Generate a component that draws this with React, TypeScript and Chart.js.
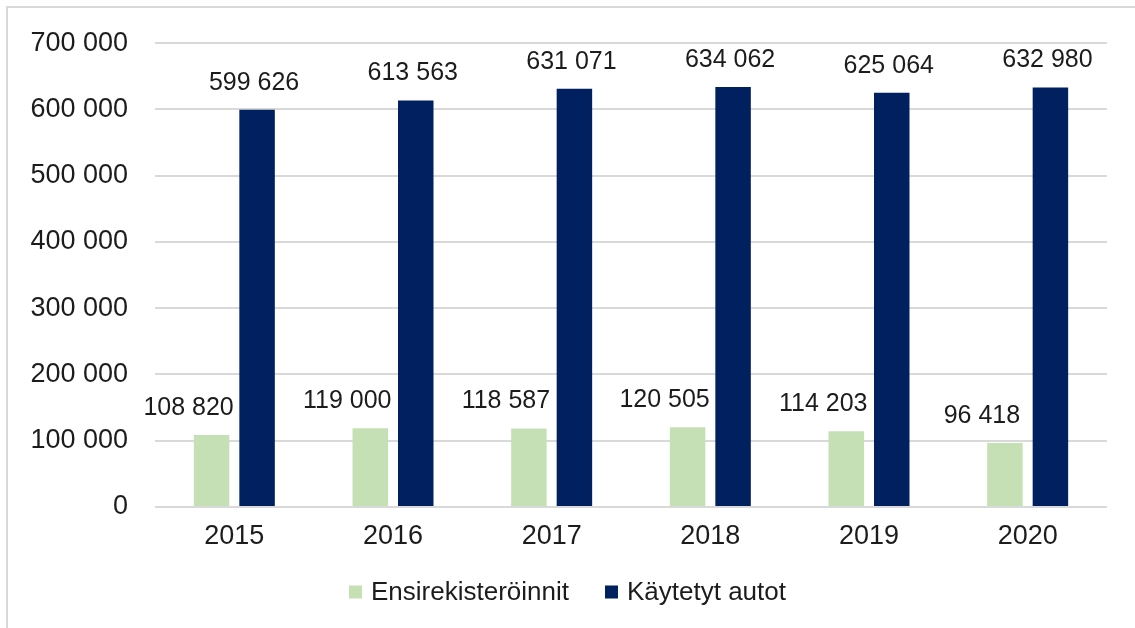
import React, { useEffect, useRef } from 'react';
import { Chart, registerables } from 'chart.js';

Chart.register(...registerables);

const years = ['2015', '2016', '2017', '2018', '2019', '2020'];
const firstRegistrations = [108820, 119000, 118587, 120505, 114203, 96418];
const usedCars = [599626, 613563, 631071, 634062, 625064, 632980];
const seriesNames = ['Ensirekisteröinnit', 'Käytetyt autot'];
const seriesColors = ['#c5e0b4', '#002060'];
const yMin = 0;
const yMax = 700000;
const yStep = 100000;

const FONT = '"Liberation Sans", Arial, sans-serif';
const TEXT = '#1c1c1c';
const GRID = '#d9d9d9';
const labelShift = [-23, -3];

const fmt = (v: number) => String(Math.round(v)).replace(/\B(?=(\d{3})+(?!\d))/g, ' ');

const framePlugin = {
  id: 'frame',
  beforeDraw(chart: any) {
    const { ctx, width, height } = chart;
    ctx.save();
    ctx.fillStyle = '#ffffff';
    ctx.fillRect(0, 0, width, height);
    ctx.strokeStyle = GRID;
    ctx.lineWidth = 2;
    ctx.beginPath();
    ctx.moveTo(7, height);
    ctx.lineTo(7, 7);
    ctx.lineTo(width, 7);
    ctx.stroke();
    ctx.restore();
  },
};

const valueLabelPlugin = {
  id: 'valueLabels',
  afterDatasetsDraw(chart: any) {
    const { ctx } = chart;
    ctx.save();
    ctx.font = `25px ${FONT}`;
    ctx.fillStyle = TEXT;
    ctx.textAlign = 'center';
    ctx.textBaseline = 'middle';
    chart.data.datasets.forEach((ds: any, i: number) => {
      const meta = chart.getDatasetMeta(i);
      meta.data.forEach((el: any, j: number) => {
        ctx.fillText(fmt(ds.data[j]), el.x + labelShift[i], el.y - 27);
      });
    });
    ctx.restore();
  },
};

const legendPlugin = {
  id: 'customLegend',
  afterDraw(chart: any) {
    const { ctx, width } = chart;
    ctx.save();
    ctx.font = `26px ${FONT}`;
    ctx.textBaseline = 'middle';
    ctx.textAlign = 'left';
    const box = 13;
    const gapText = 9;
    const gapItem = 36;
    const items = chart.data.datasets.map((ds: any) => ({
      label: ds.label,
      color: ds.backgroundColor,
      w: ctx.measureText(ds.label).width,
    }));
    const total = items.reduce((s: number, it: any) => s + box + gapText + it.w, 0) + gapItem * (items.length - 1);
    let x = (width - total) / 2;
    const y = 592;
    items.forEach((it: any) => {
      ctx.fillStyle = it.color;
      ctx.fillRect(x, y - box / 2, box, box);
      ctx.fillStyle = TEXT;
      ctx.fillText(it.label, x + box + gapText, y + 1);
      x += box + gapText + it.w + gapItem;
    });
    ctx.restore();
  },
};

export default function App() {
  const canvasRef = useRef<HTMLCanvasElement | null>(null);

  useEffect(() => {
    document.body.style.margin = '0';
    const canvas = canvasRef.current;
    if (!canvas) return;
    const chart = new Chart(canvas, {
      type: 'bar',
      data: {
        labels: years,
        datasets: [
          {
            label: seriesNames[0],
            data: firstRegistrations,
            backgroundColor: seriesColors[0],
            categoryPercentage: 0.5735,
            barPercentage: 0.78,
          },
          {
            label: seriesNames[1],
            data: usedCars,
            backgroundColor: seriesColors[1],
            categoryPercentage: 0.5735,
            barPercentage: 0.78,
          },
        ],
      },
      options: {
        animation: false,
        responsive: true,
        maintainAspectRatio: false,
        layout: { padding: { top: 40, right: 28, bottom: 61, left: 0 } },
        plugins: {
          legend: { display: false },
          tooltip: { enabled: false },
        },
        scales: {
          x: {
            grid: { display: false, drawTicks: false },
            border: { display: false },
            ticks: { font: { family: FONT, size: 27 }, color: TEXT, padding: 13 },
            afterFit(scale: any) {
              scale.height = 60;
            },
          },
          y: {
            min: yMin,
            max: yMax,
            grid: { color: GRID, lineWidth: 2, drawTicks: false },
            border: { display: false },
            ticks: {
              stepSize: yStep,
              font: { family: FONT, size: 27 },
              color: TEXT,
              padding: 27,
              callback: (v: any) => fmt(Number(v)),
            },
            afterFit(scale: any) {
              scale.width = 155;
            },
          },
        },
      },
      plugins: [framePlugin, valueLabelPlugin, legendPlugin],
    });
    return () => chart.destroy();
  }, []);

  return (
    <div style={{ width: 1135, height: 628, position: 'relative' }}>
      <canvas ref={canvasRef} />
    </div>
  );
}
